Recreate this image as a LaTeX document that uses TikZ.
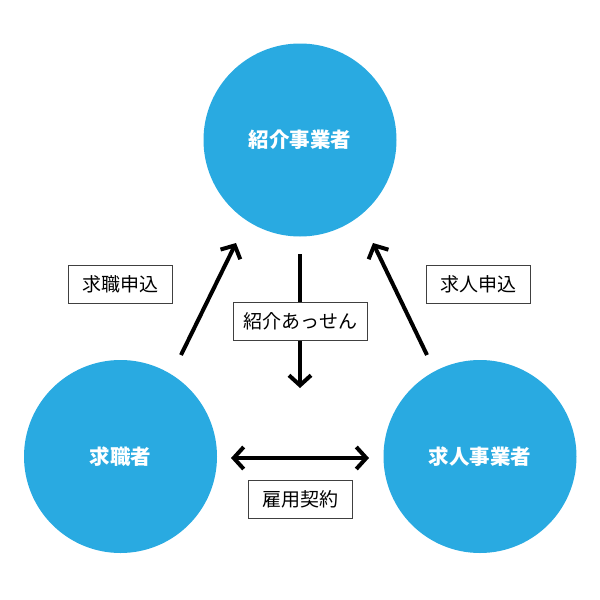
\documentclass[tikz,border=0pt]{standalone}
\usepackage{fontspec}
\newfontfamily\jpfont{Noto Sans CJK JP}
\usetikzlibrary{arrows.meta}
\definecolor{partyblue}{HTML}{29AAE1}
\tikzset{
  party/.style={circle, fill=partyblue, minimum size=193pt, inner sep=0pt,
    text=white, font=\jpfont\fontsize{20.5}{20.5}\selectfont\bfseries},
  tag/.style={draw=black!75, line width=0.8pt, fill=white, inner sep=0pt,
    minimum height=38pt, text width=104pt, align=center,
    font=\jpfont\fontsize{19}{19}\selectfont},
  barb/.tip={Straight Barb[length=10pt,width=22pt,line width=4pt]},
  flow/.style={line width=4pt, -barb},
  twoway/.style={line width=4pt, barb-barb}
}

\begin{document}
\begin{tikzpicture}[x=1pt,y=-1pt]
        \useasboundingbox (0,0) rectangle (600,600);

        % parties
        \node[party] (agent) at (300,140) {紹介事業者};
        \node[party] (seeker) at (120.5,456.5) {求職者};
        \node[party] (employer) at (480,456.5) {求人事業者};

        % anchor points
        \coordinate (s1) at (181,355);
        \coordinate (s2) at (236,243);
        \coordinate (e1) at (427,355);
        \coordinate (e2) at (373,243);
        \coordinate (m1) at (300,254);
        \coordinate (m2) at (300,388);
        \coordinate (h1) at (231,458);
        \coordinate (h2) at (369,458);

        % connectors
        \draw[flow] (s1) -- (s2);
        \draw[flow] (e1) -- (e2);
        \draw[flow] (m1) -- (m2);
        \draw[twoway] (h1) -- (h2);

        % labels
        \node[tag] (apply) at (120,284.5) {求職申込};
        \node[tag] (offer) at (478,284.5) {求人申込};
        \node[tag, text width=134pt] (match) at (300,321.5) {紹介あっせん};
        \node[tag] (contract) at (300,499.5) {雇用契約};
    \end{tikzpicture}
\end{document}
